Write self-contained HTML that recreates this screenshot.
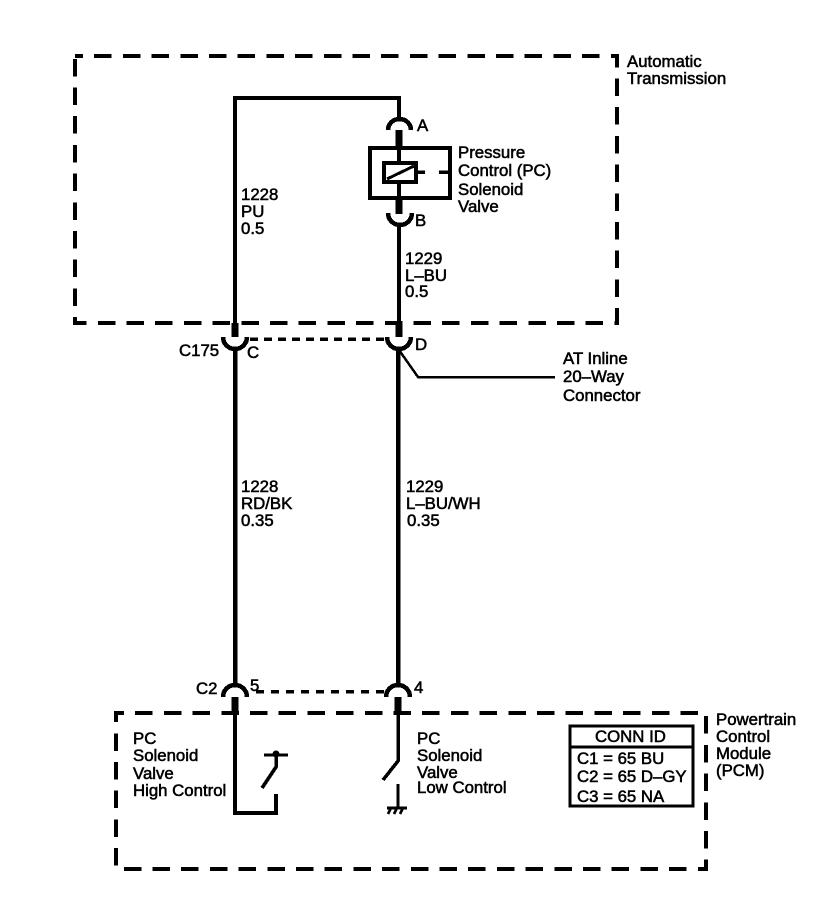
<!DOCTYPE html>
<html>
<head>
<meta charset="utf-8">
<style>
html,body{margin:0;padding:0;background:#fff}
svg{display:block}
text{font-family:"Liberation Sans",sans-serif;font-size:16.8px;fill:#000;stroke:#000;stroke-width:.55}
</style>
</head>
<body>
<svg width="832" height="920" viewBox="0 0 832 920" xmlns="http://www.w3.org/2000/svg">
<g fill="none" stroke="#000" stroke-linecap="butt" shape-rendering="crispEdges">
<!-- Dashed boxes -->
<path d="M75 56H617V323H75Z" stroke-width="4" stroke-dasharray="17.5 11.2" stroke-dashoffset="9.5"/>
<path d="M116 713H706V869H116Z" stroke-width="4" stroke-dasharray="17.5 11.2" stroke-dashoffset="9.5"/>
<!-- Top wires -->
<path d="M235 323V98H399V118" stroke-width="4"/>
<path d="M399 130V147M399 198V214M235 323V337M399 323V337M235 697V713M398 697V713" stroke-width="7"/>
<!-- Valve -->
<rect x="370" y="148" width="80" height="50" stroke-width="4"/>
<rect x="384" y="163" width="32" height="19" stroke-width="4"/>
<path d="M399 148V163M399 182V198" stroke-width="4"/>
<path d="M387 179L414 166" stroke-width="3"/>
<path d="M416 172H425M439 172H450" stroke-width="3.5"/>
<!-- Connector arcs -->
<path d="M388 130A11.5 11 0 0 1 411 130" stroke-width="4.5"/>
<path d="M388 213A12 12 0 0 0 412 213" stroke-width="4.5"/>
<path d="M223 337A12 12 0 0 0 247 337" stroke-width="4.5"/>
<path d="M387 337A12 12 0 0 0 411 337" stroke-width="4.5"/>
<path d="M223 697A12 12 0 0 1 247 697" stroke-width="4.5"/>
<path d="M386 697A12 12 0 0 1 410 697" stroke-width="4.5"/>
<!-- Middle wires -->
<path d="M399 224V323" stroke-width="4"/>
<path d="M235 348V685" stroke-width="4.5"/>
<path d="M398 348V685" stroke-width="4.5"/>
<path d="M250 339H386" stroke-width="3.5" stroke-dasharray="8 6"/>
<path d="M256 691.5H386" stroke-width="3.5" stroke-dasharray="8 7"/>
<path d="M399 350L418 377H555" stroke-width="2.5"/>
<!-- PCM internals -->
<path d="M235 713V813H276V794" stroke-width="4"/>
<path d="M264 755H288" stroke-width="3"/>
<path d="M276 755V767L262 788" stroke-width="3.5"/>
<path d="M398 713V761L383 780" stroke-width="3.5"/>
<path d="M398 784V807" stroke-width="3"/>
<path d="M387 808H407" stroke-width="3"/>
<path d="M391 808L388 814M397 808L394 814M403 808L400 814" stroke-width="2.5"/>
<!-- Conn ID -->
<rect x="570" y="726" width="123" height="80" stroke-width="3"/>
<path d="M570 747H693" stroke-width="3"/>
</g>
<circle cx="276" cy="754" r="3.5" fill="#000"/>
<text x="627" y="67">Automatic</text>
<text x="627" y="84">Transmission</text>
<text x="417" y="131">A</text>
<text x="458" y="158">Pressure</text>
<text x="458" y="176">Control (PC)</text>
<text x="458" y="195">Solenoid</text>
<text x="458" y="212">Valve</text>
<text x="415" y="226">B</text>
<text x="241" y="200">1228</text>
<text x="241" y="217">PU</text>
<text x="241" y="234">0.5</text>
<text x="405" y="264">1229</text>
<text x="405" y="281">L–BU</text>
<text x="405" y="297">0.5</text>
<text x="179" y="356">C175</text>
<text x="247" y="358">C</text>
<text x="415" y="350">D</text>
<text x="563" y="364">AT Inline</text>
<text x="563" y="382">20–Way</text>
<text x="563" y="401">Connector</text>
<text x="241" y="492">1228</text>
<text x="241" y="509">RD/BK</text>
<text x="241" y="526">0.35</text>
<text x="406" y="492">1229</text>
<text x="406" y="509">L–BU/WH</text>
<text x="407" y="526">0.35</text>
<text x="196" y="694">C2</text>
<text x="250" y="691">5</text>
<text x="414" y="693">4</text>
<text x="716" y="725">Powertrain</text>
<text x="716" y="742">Control</text>
<text x="716" y="759">Module</text>
<text x="716" y="776">(PCM)</text>
<text x="133" y="744">PC</text>
<text x="133" y="761">Solenoid</text>
<text x="133" y="779">Valve</text>
<text x="133" y="796">High Control</text>
<text x="417" y="744">PC</text>
<text x="417" y="761">Solenoid</text>
<text x="417" y="778">Valve</text>
<text x="417" y="793">Low Control</text>
<text x="595" y="742">CONN ID</text>
<text x="577" y="764">C1 = 65 BU</text>
<text x="577" y="782">C2 = 65 D–GY</text>
<text x="577" y="802">C3 = 65 NA</text>
</svg>
</body>
</html>
